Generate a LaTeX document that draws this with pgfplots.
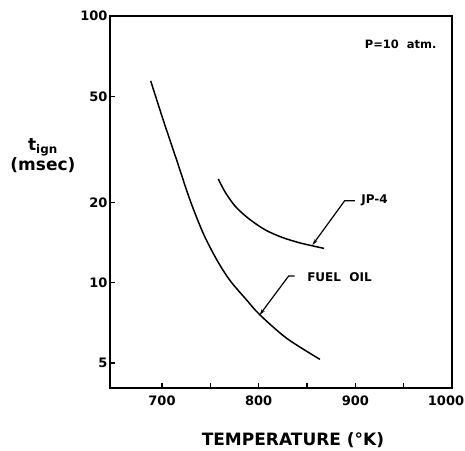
\documentclass[border=0pt]{standalone}
\usepackage{fontspec}
\setmainfont{DejaVu Sans}
\usepackage{pgfplots}
\pgfplotsset{compat=1.18}
\usetikzlibrary{arrows.meta}
\begin{document}
\begin{tikzpicture}
\useasboundingbox (-110pt,-62pt) rectangle (355pt,388pt);
\begin{axis}[
  at={(0pt,0pt)}, anchor=south west,
  scale only axis, width=342pt, height=372pt,
  ymode=log, xmin=646.2, xmax=1000, ymin=4.03, ymax=100,
  axis line style={line width=1.4pt},
  tick pos=left,
  major tick length=5pt,
  every tick/.style={line width=1.3pt, black},
  xtick={700,750,800,850,900,950},
  xticklabels={\textbf{700},,\textbf{800},,\textbf{900},},
  extra x ticks={1000},
  extra x tick labels={\textbf{1000}},
  extra x tick style={xticklabel style={xshift=-6pt}},
  ytick={5,10,20,50,100},
  yticklabels={\textbf{5}\hspace{6pt},\textbf{10},\textbf{20},\textbf{50},\textbf{100}},
  minor tick num=0, yminorticks=false,
  /pgf/number format/assume math mode=true,
  tick label style={font=\fontsize{13}{13}\selectfont\bfseries},
  xticklabel style={yshift=-4pt},
  yticklabel style={xshift=1pt},
  xlabel={TEMPERATURE (°K)},
  xlabel style={font=\fontsize{17}{17}\selectfont\bfseries, at={(axis description cs:0.535,0)}, anchor=center, yshift=-52pt},
  ylabel={t\textsubscript{ign}\\(msec)},
  ylabel style={font=\fontsize{17}{20}\selectfont\bfseries, rotate=-90, align=center, at={(axis description cs:-0.196,0.625)}, anchor=center},
  clip=false,
]
\addplot[black, line width=1.5pt, smooth, tension=0.5] coordinates {
(688.3,57.1) (701.3,40.7) (715.2,28.8) (729.0,20.4) (742.7,15.3) (756.6,12.2)
(770.3,10.2) (787.6,8.61) (801.4,7.57) (829.0,6.19) (863.4,5.16)
};
\addplot[black, line width=1.5pt, smooth, tension=0.5] coordinates {
(758.2,24.5) (765.2,21.9) (775.5,19.4) (789.0,17.47) (806.5,15.8) (824.1,14.8) (842.8,14.1) (867.6,13.45)
};
\draw[line width=1.2pt, -{Stealth[length=6pt,width=3.5pt]}] (axis cs:899.4,20.3) -- (axis cs:889,20.3) -- (axis cs:855.6,13.84);
\draw[line width=1.2pt, -{Stealth[length=6pt,width=3.5pt]}] (axis cs:837.3,10.6) -- (axis cs:831,10.6) -- (axis cs:801,7.57);
\node[anchor=west, font=\fontsize{12}{12}\selectfont\bfseries] at (axis cs:902.5,20.3) {JP-4};
\node[anchor=west, font=\fontsize{12}{12}\selectfont\bfseries] at (axis cs:846.6,10.5) {FUEL\ \ OIL};
\node[font=\fontsize{11.5}{12}\selectfont\bfseries] at (axis description cs:0.85,0.925) {P=10\ \ atm.};
\end{axis}
\end{tikzpicture}
\end{document}
